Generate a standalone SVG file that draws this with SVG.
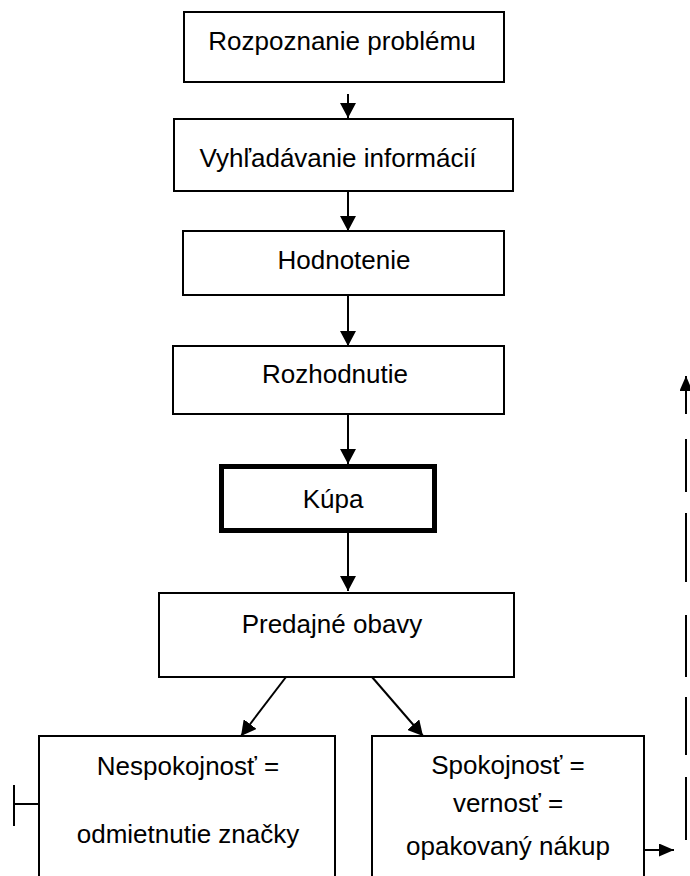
<svg xmlns="http://www.w3.org/2000/svg" width="690" height="876" viewBox="0 0 690 876">
<style>
.box{fill:#fff;stroke:#000;stroke-width:2}
.thick{fill:#fff;stroke:#000;stroke-width:5}
.lbl{font-family:"Liberation Sans",Arial,sans-serif;font-size:26px;fill:#000;text-anchor:middle}
.con{stroke:#000;stroke-width:2;fill:none}
</style>
<defs>
<marker id="ah" viewBox="0 0 15 16" refX="15" refY="8" markerWidth="15" markerHeight="16" markerUnits="userSpaceOnUse" orient="auto">
<path d="M0,0 L15,8 L0,16 Z" fill="#000"/>
</marker>
<marker id="ahs" viewBox="0 0 15 13" refX="15" refY="6.5" markerWidth="15" markerHeight="13" markerUnits="userSpaceOnUse" orient="auto">
<path d="M0,0 L15,6.5 L0,13 Z" fill="#000"/>
</marker>
</defs>
<rect width="690" height="876" fill="#fff"/>
<g id="n1"><rect class="box" x="184" y="12" width="320" height="70"/><text class="lbl" x="342" y="50">Rozpoznanie problému</text></g>
<g id="n2"><rect class="box" x="174" y="119" width="339" height="72"/><text class="lbl" x="338" y="167">Vyhľadávanie informácií</text></g>
<g id="n3"><rect class="box" x="183" y="231" width="321" height="64"/><text class="lbl" x="344" y="269">Hodnotenie</text></g>
<g id="n4"><rect class="box" x="173" y="346" width="331" height="68"/><text class="lbl" x="335" y="383">Rozhodnutie</text></g>
<g id="n5"><rect class="thick" x="221.5" y="466.5" width="213" height="64"/><text class="lbl" x="333" y="508">Kúpa</text></g>
<g id="n6"><rect class="box" x="159" y="593" width="355" height="84"/><text class="lbl" x="332" y="633">Predajné obavy</text></g>
<g id="n7"><rect class="box" x="39" y="736" width="296" height="170"/><text class="lbl" x="188" y="775">Nespokojnosť =</text><text class="lbl" x="188" y="843">odmietnutie značky</text></g>
<g id="n8"><rect class="box" x="372" y="736" width="272" height="170"/><text class="lbl" x="508" y="774">Spokojnosť =</text><text class="lbl" x="508" y="812">vernosť =</text><text class="lbl" x="508" y="855">opakovaný nákup</text></g>
<g id="connectors">
<line class="con" x1="348" y1="94" x2="348" y2="118" marker-end="url(#ah)"/>
<line class="con" x1="348" y1="191" x2="348" y2="231" marker-end="url(#ah)"/>
<line class="con" x1="348" y1="295" x2="348" y2="346" marker-end="url(#ah)"/>
<line class="con" x1="348" y1="414" x2="348" y2="464" marker-end="url(#ah)"/>
<line class="con" x1="348" y1="533" x2="348" y2="591" marker-end="url(#ah)"/>
<line class="con" x1="286" y1="677" x2="241" y2="736" marker-end="url(#ah)"/>
<line class="con" x1="372" y1="677" x2="423" y2="736" marker-end="url(#ah)"/>
<line class="con" x1="644" y1="850" x2="674" y2="850" marker-end="url(#ahs)"/>
<path class="con" d="M686,840 L686,777 M686,755 L686,697 M686,677 L686,615 M686,582 L686,513 M686,492 L686,439"/>
<line class="con" x1="686" y1="414" x2="686" y2="376" marker-end="url(#ahs)"/>
<path class="con" d="M14,785 L14,826 M14,804 L39,804"/>
</g>
</svg>
